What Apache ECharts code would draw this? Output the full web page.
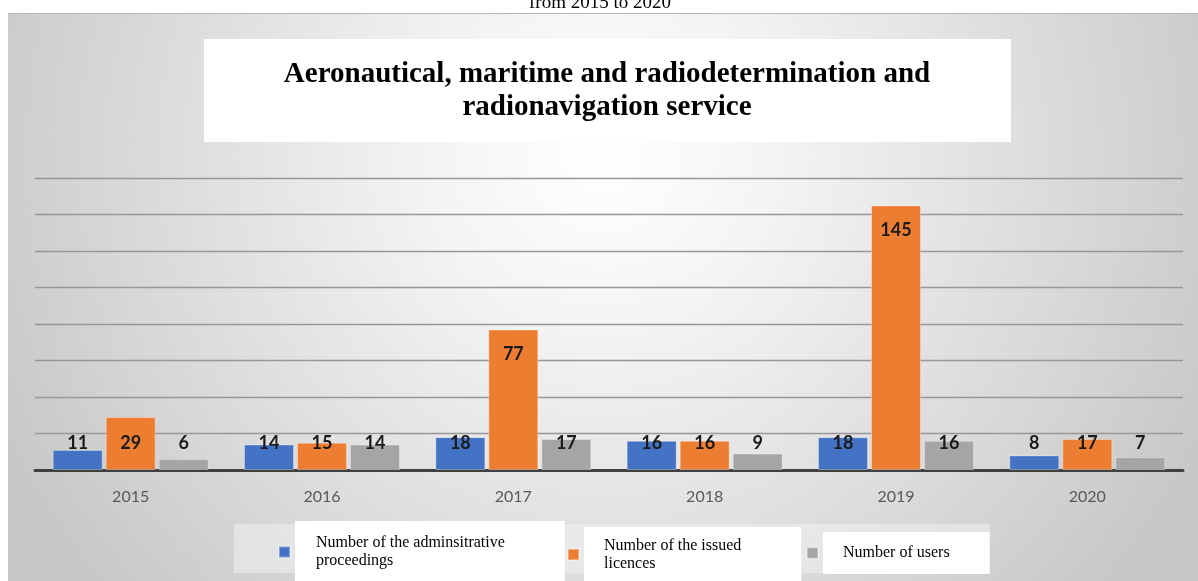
<!DOCTYPE html>
<html>
<head>
<meta charset="utf-8">
<script src="https://cdn.jsdelivr.net/npm/echarts@6/dist/echarts.min.js"></script>
<style>
html,body{margin:0;padding:0;background:#fff;}
#chart{width:1198px;height:581px;}
</style>
</head>
<body>
<div id="chart"></div>
<script>
const categories = ['2015', '2016', '2017', '2018', '2019', '2020'];
const proceedings = [11, 14, 18, 16, 18, 8];
const licences = [29, 15, 77, 16, 145, 17];
const users = [6, 14, 17, 9, 16, 7];
const seriesNames = [
  'Number of the adminsitrative proceedings',
  'Number of the issued licences',
  'Number of users'
];
const seriesColors = ['#4472C4', '#ED7D31', '#A5A5A5'];
const titleLines = ['Aeronautical, maritime and radiodetermination and', 'radionavigation service'];
const subtitle = 'from 2015 to 2020';

const chart = echarts.init(document.getElementById('chart'), null, {renderer: 'canvas'});

function dataWithLabels(values) {
  return values.map(v => ({
    value: v,
    label: v > 40
      ? {position: 'insideTop', distance: 16}
      : {position: 'insideBottom', distance: 18}
  }));
}

function makeSeries(i, values) {
  return {
    name: seriesNames[i],
    type: 'bar',
    barWidth: 50,
    barGap: '6%',
    itemStyle: {color: seriesColors[i], borderColor: 'rgba(255,255,255,0.35)', borderWidth: 1},
    label: {
      show: true,
      color: '#1a1a1a',
      fontFamily: 'Lato',
      fontWeight: 'bold',
      fontSize: 18
    },
    data: dataWithLabels(values)
  };
}

const legendText = {
  fontFamily: '"Liberation Serif", "Times New Roman", serif',
  fontSize: 16,
  color: '#000',
  backgroundColor: '#ffffff'
};

const option = {
  animation: false,
  backgroundColor: '#ffffff',
  graphic: [
    {
      type: 'rect', z: -10, silent: true,
      shape: {x: 8, y: 13, width: 1190, height: 568},
      style: {
        fill: {
          type: 'radial', x: 0.5, y: 0.25, r: 1.2,
          colorStops: [{offset: 0, color: '#ffffff'}, {offset: 0.25, color: '#f4f4f4'}, {offset: 1, color: '#c6c6c6'}]
        }
      }
    },
    {
      type: 'rect', z: -9, silent: true,
      shape: {x: 8, y: 13, width: 1190, height: 1},
      style: {fill: '#b4b4b4'}
    },
    {
      type: 'rect', z: -9, silent: true,
      shape: {x: 234, y: 524, width: 756, height: 49},
      style: {fill: 'rgba(240,240,240,0.55)'}
    },
    {
      type: 'rect', z: -8, silent: true,
      shape: {x: 204, y: 39, width: 807, height: 103},
      style: {fill: '#ffffff'}
    },
    {
      type: 'text', z: -7, silent: true,
      x: 607, y: 58,
      style: {
        text: titleLines.join('\n'),
        font: 'bold 29px "Liberation Serif", "Times New Roman", serif',
        fill: '#000000',
        align: 'center',
        verticalAlign: 'top',
        lineHeight: 33
      }
    },
    {
      type: 'text', z: -7, silent: true,
      x: 600, y: 3,
      style: {
        text: subtitle,
        font: '19px "Liberation Serif", "Times New Roman", serif',
        fill: '#000000',
        align: 'center',
        verticalAlign: 'middle'
      }
    }
  ],
  legend: [
    {
      data: [seriesNames[0]],
      left: 278, top: 521, padding: 0,
      icon: 'rect', itemWidth: 11, itemHeight: 11,
      formatter: n => n.replace('adminsitrative ', 'adminsitrative\n'),
      textStyle: Object.assign({}, legendText, {lineHeight: 18, padding: [9, 60, 17, 21]})
    },
    {
      data: [seriesNames[1]],
      left: 567, top: 527, padding: 0,
      icon: 'rect', itemWidth: 11, itemHeight: 11,
      formatter: n => n.replace('issued ', 'issued\n'),
      textStyle: Object.assign({}, legendText, {lineHeight: 18, padding: [13, 60, 6, 20]})
    },
    {
      data: [seriesNames[2]],
      left: 806, top: 532, padding: 0,
      icon: 'rect', itemWidth: 11, itemHeight: 11,
      textStyle: Object.assign({}, legendText, {lineHeight: 18, padding: [12, 40, 12, 20]})
    }
  ],
  grid: {left: 35, right: 15, top: 178, bottom: 111, containLabel: false},
  xAxis: {
    type: 'category',
    data: categories,
    axisLine: {show: true, lineStyle: {color: '#404040', width: 3}},
    axisTick: {show: false},
    axisLabel: {color: '#595959', fontFamily: 'Lato', fontSize: 16, margin: 19}
  },
  yAxis: {
    type: 'value',
    min: 0, max: 160, interval: 20,
    axisLabel: {show: false},
    axisLine: {show: false},
    axisTick: {show: false},
    splitLine: {show: true, lineStyle: {color: '#979797', width: 1.3}}
  },
  series: [
    makeSeries(0, proceedings),
    makeSeries(1, licences),
    makeSeries(2, users)
  ]
};

chart.setOption(option);
</script>
</body>
</html>
